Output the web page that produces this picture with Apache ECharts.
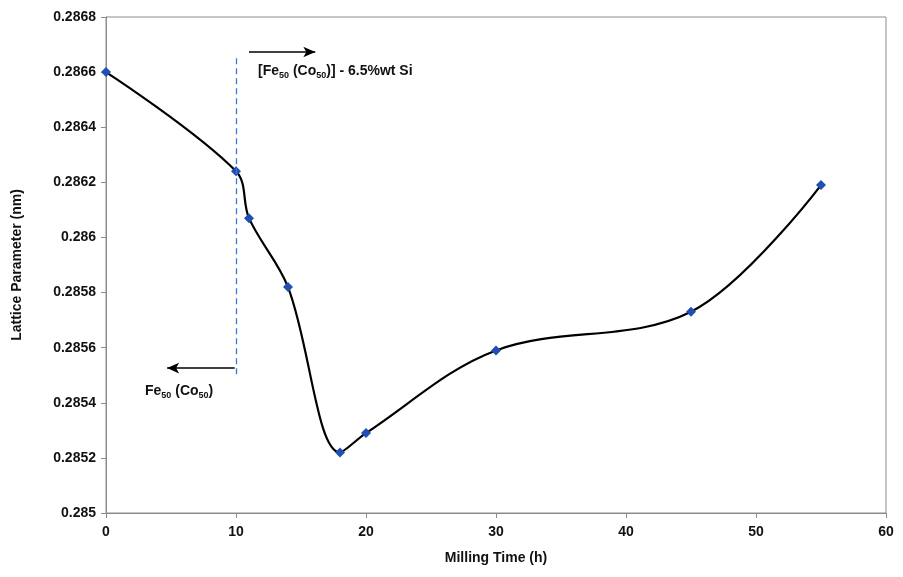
<!DOCTYPE html>
<html><head><meta charset="utf-8">
<script src="https://cdn.jsdelivr.net/npm/echarts@6/dist/echarts.min.js"></script>
<style>html,body{margin:0;padding:0;background:#fff}#c{width:903px;height:577px}</style>
</head><body><div id="c"></div>
<script>
const millingTime = [0, 10, 11, 14, 18, 20, 30, 45, 55];
const latticeParam = [0.2866, 0.28624, 0.28607, 0.28582, 0.28522, 0.28529, 0.28559, 0.28573, 0.28619];
const xTicks = {min: 0, max: 60, interval: 10};
const yTicks = {min: 0.285, max: 0.2868, interval: 0.0002};
const FONT = '"Liberation Sans Narrow", "Liberation Sans", Arial, sans-serif';

const chart = echarts.init(document.getElementById('c'));
const sub = {fontFamily: FONT, fontWeight: 'bold', fontSize: 9, color: '#111', verticalAlign: 'bottom', padding: [0,0,-2,0]};
chart.setOption({
  animation: false,
  grid: {left: 106, right: 17, top: 17, bottom: 64, show: true, borderColor: '#8c8c8c', borderWidth: 1, backgroundColor: '#fff'},
  xAxis: {
    type: 'value', min: xTicks.min, max: xTicks.max, interval: xTicks.interval,
    name: 'Milling Time (h)', nameLocation: 'middle', nameGap: 38,
    nameTextStyle: {fontFamily: FONT, fontWeight: 'bold', fontSize: 14, color: '#111'},
    axisLine: {lineStyle: {color: '#8c8c8c'}},
    axisTick: {show: true, inside: false, length: 5, lineStyle: {color: '#8c8c8c'}},
    axisLabel: {fontFamily: FONT, fontWeight: 'bold', fontSize: 14, color: '#111', margin: 12},
    splitLine: {show: false}
  },
  yAxis: {
    type: 'value', min: yTicks.min, max: yTicks.max, interval: yTicks.interval,
    name: 'Lattice Parameter (nm)', nameLocation: 'middle', nameGap: 82, nameRotate: 90,
    nameTextStyle: {fontFamily: FONT, fontWeight: 'bold', fontSize: 14, color: '#111'},
    axisLine: {show: true, lineStyle: {color: '#8c8c8c'}},
    axisTick: {show: true, length: 5, lineStyle: {color: '#8c8c8c'}},
    axisLabel: {fontFamily: FONT, fontWeight: 'bold', fontSize: 14, color: '#111', margin: 10,
      formatter: v => String(parseFloat(v.toFixed(4)))},
    splitLine: {show: false}
  },
  series: [{
    type: 'line',
    data: millingTime.map((x, i) => [x, latticeParam[i]]),
    smooth: 0.35,
    symbol: 'diamond', symbolSize: 10,
    itemStyle: {color: '#1f4fb4'},
    lineStyle: {color: '#000', width: 2.2},
    z: 3,
    markLine: {
      silent: true, animation: false,
      label: {show: false},
      data: [
        [{coord: [10, 0.28665], symbol: 'none', lineStyle: {color: '#3a78d8', type: [6, 4], width: 1.3}},
         {coord: [10, 0.28549], symbol: 'none'}],
        [{coord: [11, 0.286673], symbol: 'none', lineStyle: {color: '#000', type: 'solid', width: 1.5}},
         {coord: [16.1, 0.286673], symbol: 'arrow', symbolSize: [8, 12]}],
        [{coord: [9.9, 0.285526], symbol: 'none', lineStyle: {color: '#000', type: 'solid', width: 1.5}},
         {coord: [4.7, 0.285526], symbol: 'arrow', symbolSize: [8, 12]}]
      ]
    }
  }],
  graphic: [
    {type: 'text', left: 258, top: 64, style: {
      text: '[Fe{s|50} (Co{s|50})] - 6.5%wt Si',
      font: 'bold 14px ' + FONT, fill: '#111', rich: {s: sub}}},
    {type: 'text', left: 145, top: 384, style: {
      text: 'Fe{s|50} (Co{s|50})',
      font: 'bold 14px ' + FONT, fill: '#111', rich: {s: sub}}}
  ]
});
</script></body></html>
